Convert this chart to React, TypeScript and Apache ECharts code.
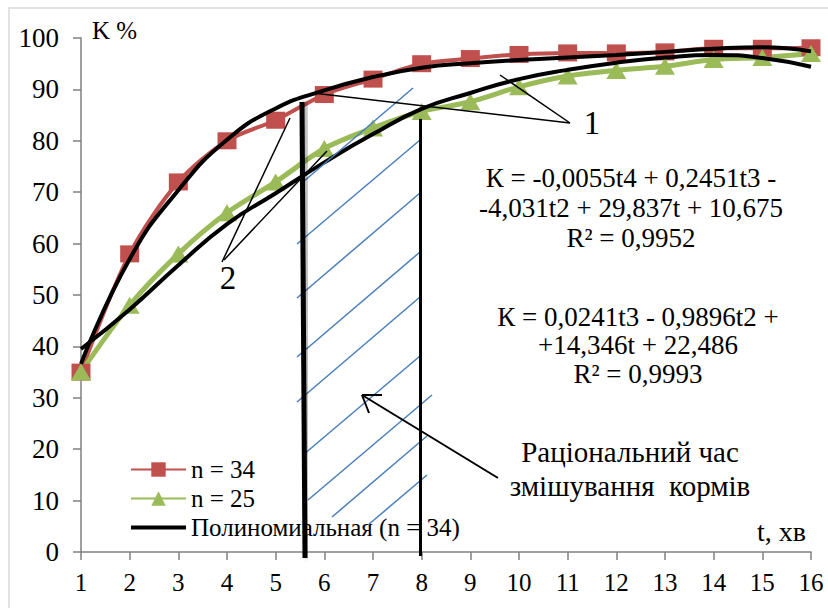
import React, { useEffect, useRef } from 'react';
import * as echarts from 'echarts';

const categories = ['1', '2', '3', '4', '5', '6', '7', '8', '9', '10', '11', '12', '13', '14', '15', '16'];
const seriesN34 = [35, 58, 72, 80, 84, 89, 92, 95, 96, 96.8, 97.1, 97.1, 97.3, 98, 98, 98.1];
const seriesN25 = [35, 48, 58, 66, 72, 78.5, 82.5, 85.7, 87.6, 90.5, 92.6, 93.7, 94.5, 95.8, 96.2, 97];
const trendN34 = [36.6, 57, 70.4, 80.2, 86.3, 89.8, 92.4, 94.2, 95.1, 95.7, 96.2, 96.7, 97.3, 97.9, 98.2, 97.4];
const trendN25 = [39.5, 47.2, 55.8, 63.8, 69.8, 75.8, 81.3, 86.2, 89.3, 92, 93.8, 95.2, 96.2, 96.7, 96.1, 94.4];
const legendNames = ['n = 34', 'n = 25', 'Полиномиальная (n = 34)'];

const FONT = 'Liberation Serif';

// annotation geometry (pixels)
const hatch: number[][] = [
  [303, 182, 413, 88],
  [297, 244, 420, 140],
  [297, 298, 420, 193],
  [297, 357, 420, 252],
  [297, 402, 420, 297],
  [303, 455, 420, 356],
  [308, 500, 432, 395],
  [332, 517, 427, 436],
  [368, 525, 427, 475],
];

function txt(text: string, x: number, y: number, size: number, align = 'center', lineHeight?: number) {
  return {
    type: 'text',
    x,
    y,
    z: 100,
    style: {
      text,
      fontFamily: FONT,
      fontSize: size,
      fill: '#000',
      textAlign: align,
      textVerticalAlign: 'middle',
      lineHeight: lineHeight || Math.round(size * 1.2),
    },
  };
}

function ln(x1: number, y1: number, x2: number, y2: number, w: number, color = '#000', shadow = false) {
  return {
    type: 'line',
    z: 90,
    shape: { x1, y1, x2, y2 },
    style: {
      stroke: color,
      lineWidth: w,
      ...(shadow ? { shadowBlur: 4, shadowColor: 'rgba(0,0,0,0.35)', shadowOffsetX: 3 } : {}),
    },
  };
}

export default function App() {
  const ref = useRef<HTMLDivElement>(null);
  useEffect(() => {
    document.body.style.margin = '0';
    const chart = echarts.init(ref.current!, null, { renderer: 'svg' });
    const axisColor = '#808080';
    const option: any = {
      animation: false,
      backgroundColor: '#fff',
      grid: { left: 81, right: 17, top: 38, bottom: 56 },
      legend: {
        orient: 'vertical',
        left: 125,
        top: 450,
        itemWidth: 55,
        itemHeight: 18,
        itemGap: 0,
        data: [
          { name: legendNames[0] },
          { name: legendNames[1] },
          { name: legendNames[2], icon: 'path://M0,0H55V4H0Z' },
        ],
        textStyle: { fontFamily: FONT, fontSize: 25, color: '#000', lineHeight: 29 },
      },
      xAxis: {
        type: 'category',
        data: categories,
        boundaryGap: false,
        axisLine: { lineStyle: { color: axisColor, width: 1.5 } },
        axisTick: { show: true, length: 8, lineStyle: { color: axisColor, width: 1.5 } },
        axisLabel: { color: '#000', fontFamily: FONT, fontSize: 25, margin: 18 },
        splitLine: { show: false },
      },
      yAxis: {
        type: 'value',
        min: 0,
        max: 100,
        interval: 10,
        axisLine: { show: true, lineStyle: { color: axisColor, width: 1.5 } },
        axisTick: { show: true, length: 8, lineStyle: { color: axisColor, width: 1.5 } },
        axisLabel: { color: '#000', fontFamily: FONT, fontSize: 27, margin: 22 },
        splitLine: { show: false },
      },
      series: [
        {
          name: 'n = 34',
          type: 'line',
          data: seriesN34,
          smooth: 0.3,
          symbol: 'rect',
          symbolSize: [19, 17],
          itemStyle: { color: '#C0504D' },
          lineStyle: { color: '#C0504D', width: 4 },
          z: 2,
        },
        {
          name: 'n = 25',
          type: 'line',
          data: seriesN25,
          smooth: 0.3,
          symbol: 'triangle',
          symbolSize: [20, 17],
          itemStyle: { color: '#9BBB59' },
          lineStyle: { color: '#9BBB59', width: 5 },
          z: 2,
        },
        {
          name: 'Полиномиальная (n = 34)',
          type: 'line',
          data: trendN34,
          smooth: true,
          symbol: 'none',
          itemStyle: { color: '#000' },
          lineStyle: { color: '#000', width: 4 },
          z: 3,
        },
        {
          name: 'Полиномиальная (n = 25)',
          type: 'line',
          data: trendN25,
          smooth: true,
          symbol: 'none',
          itemStyle: { color: '#000' },
          lineStyle: { color: '#000', width: 4 },
          z: 3,
        },
      ],
      graphic: [
        {
          type: 'rect',
          z: 0,
          shape: { x: 9, y: 8, width: 830, height: 620 },
          style: { fill: 'none', stroke: '#d9d9d9', lineWidth: 1.5 },
        },
        ...hatch.map((h) => ln(h[0], h[1], h[2], h[3], 1.5, '#4a7ebb')),
        ln(302, 102, 305, 558, 5, '#000', true),
        ln(420, 119, 421, 556, 5, '#000', true),
        ln(313, 93, 570, 123, 1.5),
        ln(500, 75, 570, 123, 1.5),
        ln(222, 262, 290, 118, 1.5),
        ln(224, 260, 327, 151, 1.5),
        ln(498, 478, 362, 395, 2),
        ln(362, 395, 382, 395, 2),
        ln(362, 395, 369, 413, 2),
        txt('K %', 92, 30, 25, 'left'),
        txt('t, хв', 806, 531, 28, 'right'),
        txt('1', 592, 123, 33),
        txt('2', 228, 278, 33),
        txt('К = -0,0055t4 + 0,2451t3 -\n-4,031t2 + 29,837t + 10,675\nR² = 0,9952', 631, 208, 27, 'center', 30),
        txt('К = 0,0241t3 - 0,9896t2 +\n+14,346t + 22,486\nR² = 0,9993', 638, 345, 27, 'center', 28.5),
        txt('Раціональний час\nзмішування  кормів', 630, 469, 29, 'center', 34),
      ],
    };
    chart.setOption(option);
    return () => chart.dispose();
  }, []);
  return <div ref={ref} style={{ position: 'absolute', left: 0, top: 0, width: 828, height: 608 }} />;
}
